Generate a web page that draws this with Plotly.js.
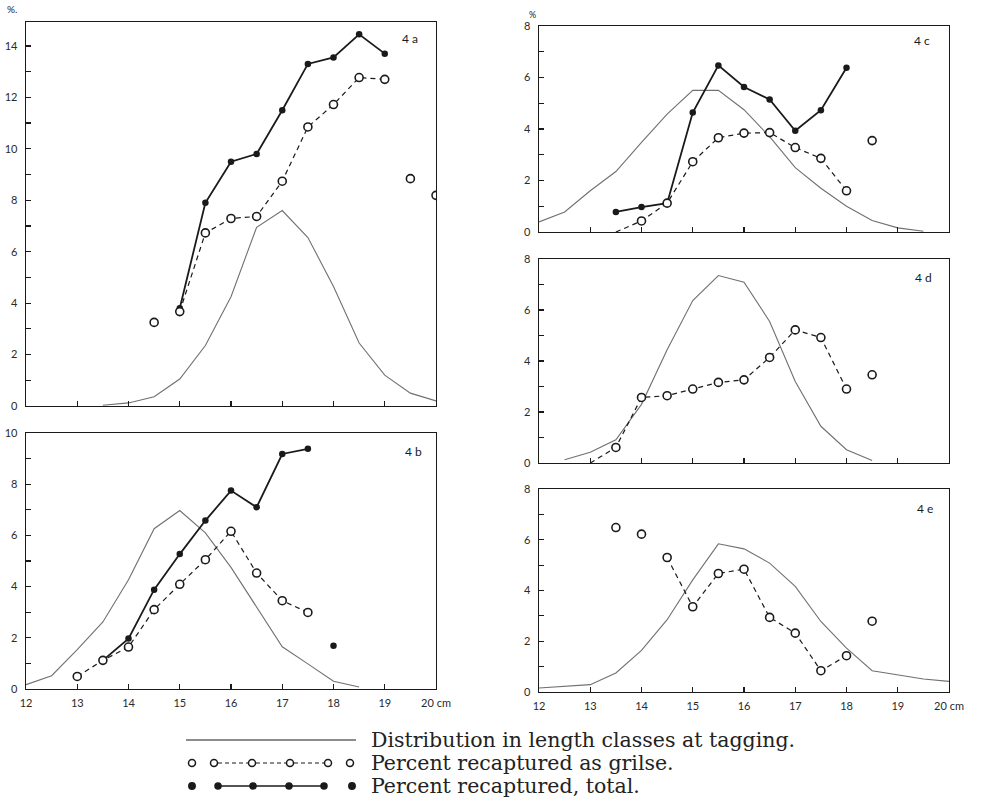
<!DOCTYPE html>
<html>
<head>
<meta charset="utf-8">
<script src="https://cdn.plot.ly/plotly-3.0.1.min.js"></script>
<style>html,body{margin:0;padding:0;background:#fff;}#chart{width:982px;height:809px;}</style>
</head>
<body>
<div id="chart"></div>
<script>
// ---------- DATA ----------
// length classes (cm)
const lengthClasses = [12,12.5,13,13.5,14,14.5,15,15.5,16,16.5,17,17.5,18,18.5,19,19.5,20];
const lengthTicks = [12,13,14,15,16,17,18,19,20];
const lengthTickLabels = ['12','13','14','15','16','17','18','19','20 cm'];

// Panel 4a
const aDist        = [null,null,null,0.03,0.12,0.36,1.05,2.35,4.25,6.95,7.6,6.55,4.65,2.45,1.2,0.5,0.2];
const aGrilseLine  = [null,null,null,null,null,null,3.67,6.73,7.29,7.37,8.74,10.85,11.72,12.77,12.7,null,null];
const aGrilseSingle= [null,null,null,null,null,3.25,null,null,null,null,null,null,null,null,null,8.84,8.19];
const aTotalLine   = [null,null,null,null,null,null,3.8,7.9,9.5,9.8,11.5,13.3,13.55,14.45,13.7,null,null];
const aTotalSingle = [null,null,null,null,null,null,null,null,null,null,null,null,null,null,null,null,null];

// Panel 4b
const bDist        = [0.17,0.52,1.54,2.62,4.27,6.26,6.97,6.1,4.75,3.2,1.65,0.98,0.3,0.08,null,null,null];
const bGrilseLine  = [null,null,0.49,1.12,1.64,3.1,4.09,5.05,6.16,4.53,3.45,2.99,null,null,null,null,null];
const bGrilseSingle= [null,null,null,null,null,null,null,null,null,null,null,null,null,null,null,null,null];
const bTotalLine   = [null,null,null,1.12,1.97,3.88,5.27,6.58,7.75,7.1,9.18,9.38,null,null,null,null,null];
const bTotalSingle = [null,null,null,null,null,null,null,null,null,null,null,null,1.69,null,null,null,null];

// Panel 4c
const cDist        = [0.39,0.78,1.6,2.35,3.48,4.58,5.5,5.5,4.75,3.7,2.5,1.7,1.0,0.45,0.16,0.03,null];
const cGrilseLine  = [null,null,null,0,0.43,1.12,2.73,3.66,3.84,3.86,3.28,2.86,1.6,null,null,null,null];
const cGrilseSingle= [null,null,null,null,null,null,null,null,null,null,null,null,null,3.55,null,null,null];
const cTotalLine   = [null,null,null,0.78,0.97,1.12,4.64,6.47,5.63,5.15,3.93,4.73,6.38,null,null,null,null];
const cTotalSingle = [null,null,null,null,null,null,null,null,null,null,null,null,null,null,null,null,null];

// Panel 4d
const dDist        = [null,0.13,0.42,0.91,2.3,4.44,6.37,7.35,7.09,5.55,3.2,1.44,0.52,0.1,null,null,null];
const dGrilseLine  = [null,null,0,0.61,2.57,2.64,2.9,3.16,3.26,4.14,5.22,4.92,2.9,null,null,null,null];
const dGrilseSingle= [null,null,null,null,null,null,null,null,null,null,null,null,null,3.46,null,null,null];

// Panel 4e
const eDist        = [0.16,0.22,0.29,0.75,1.64,2.85,4.42,5.84,5.64,5.08,4.16,2.78,1.73,0.84,0.68,0.51,0.42];
const eGrilseLine  = [null,null,null,null,null,5.3,3.36,4.67,4.84,2.94,2.32,0.84,1.43,null,null,null,null];
const eGrilseSingle= [null,null,null,6.48,6.22,null,null,null,null,null,null,null,null,2.79,null,null,null];

const panelLabels = ['4 a','4 b','4 c','4 d','4 e'];
const legendTexts = ['Distribution in length classes at tagging.','Percent recaptured as grilse.','Percent recaptured, total.'];

// ---------- LAYOUT HELPERS ----------
const W = 982, H = 809;
const P = x => x / W;
const Q = y => 1 - y / H;
const INK = '#1a1a1a';
const tickFont = {family:'Lato, "DejaVu Sans", sans-serif', size:11, color:'#2a2a2a'};

function xAxis(x0, x1, anchor, showLabels){
  return {domain:[P(x0),P(x1)], anchor:anchor, range:[12,20], tickmode:'array',
    tickvals:lengthTicks, ticktext:lengthTickLabels, showticklabels:showLabels,
    ticks:'inside', ticklen:5, tickwidth:1.2, tickcolor:INK, showline:true, mirror:true,
    linecolor:INK, linewidth:1.4, showgrid:false, zeroline:false, tickfont:tickFont,
    ticklabelstandoff:3, fixedrange:true};
}
function yAxis(top, bot, anchor, ymax){
  return {domain:[Q(bot),Q(top)], anchor:anchor, range:[0,ymax], tickmode:'linear', tick0:0, dtick:2,
    ticks:'inside', ticklen:5, tickwidth:1.2, tickcolor:INK, showline:true, mirror:true,
    linecolor:INK, linewidth:1.4, showgrid:false, zeroline:false, tickfont:tickFont,
    minor:{dtick:1, tick0:0, ticks:'inside', ticklen:5, tickwidth:1.2, tickcolor:INK, showgrid:false},
    ticklabelstandoff:5, fixedrange:true};
}

const openMarker = {symbol:'circle', size:8, color:'#ffffff', line:{color:INK, width:1.6}};
const filledMarker = {symbol:'circle', size:6.5, color:INK, line:{width:0}};

const traces = [];
function addPanel(xa, ya, dist, gLine, gSingle, tLine, tSingle){
  traces.push({x:lengthClasses, y:dist, xaxis:xa, yaxis:ya, mode:'lines',
    line:{color:'#707070', width:1.1}, hoverinfo:'skip', showlegend:false});
  if (tLine){
    traces.push({x:lengthClasses, y:tLine, xaxis:xa, yaxis:ya, mode:'lines',
      line:{color:INK, width:1.8}, showlegend:false});
    traces.push({x:lengthClasses, y:tLine, xaxis:xa, yaxis:ya, mode:'markers',
      marker:filledMarker, showlegend:false});
  }
  if (tSingle){
    traces.push({x:lengthClasses, y:tSingle, xaxis:xa, yaxis:ya, mode:'markers',
      marker:filledMarker, showlegend:false});
  }
  traces.push({x:lengthClasses, y:gLine, xaxis:xa, yaxis:ya, mode:'lines',
    line:{color:INK, width:1.2, dash:'5px,4px'}, showlegend:false});
  // open circles (the zero start of a dashed line carries no circle)
  traces.push({x:lengthClasses, y:gLine.map(v => v === 0 ? null : v), xaxis:xa, yaxis:ya, mode:'markers',
    marker:openMarker, showlegend:false});
  traces.push({x:lengthClasses, y:gSingle, xaxis:xa, yaxis:ya, mode:'markers',
    marker:openMarker, showlegend:false});
}
addPanel('x','y', aDist, aGrilseLine, aGrilseSingle, aTotalLine, aTotalSingle);
addPanel('x2','y2', bDist, bGrilseLine, bGrilseSingle, bTotalLine, bTotalSingle);
addPanel('x3','y3', cDist, cGrilseLine, cGrilseSingle, cTotalLine, cTotalSingle);
addPanel('x4','y4', dDist, dGrilseLine, dGrilseSingle, null, null);
addPanel('x5','y5', eDist, eGrilseLine, eGrilseSingle, null, null);

const layout = {
  width:W, height:H, margin:{l:0,r:0,t:0,b:0},
  paper_bgcolor:'#ffffff', plot_bgcolor:'rgba(0,0,0,0)', showlegend:false,
  xaxis: xAxis(26,436,'y',false),   yaxis: yAxis(22,406,'x',14.93),
  xaxis2:xAxis(26,436,'y2',true),   yaxis2:yAxis(433,689,'x2',10),
  xaxis3:xAxis(539,949,'y3',false), yaxis3:yAxis(26,232,'x3',8),
  xaxis4:xAxis(539,949,'y4',false), yaxis4:yAxis(259,463,'x4',8),
  xaxis5:xAxis(539,949,'y5',true),  yaxis5:yAxis(489,692,'x5',8),
  annotations:[], shapes:[]
};

// panel labels
const labelPos = [[410,39],[413,452],[922,40],[923,277],[925,508]];
panelLabels.forEach((t,i)=>{
  layout.annotations.push({text:t, xref:'paper', yref:'paper', x:P(labelPos[i][0]), y:Q(labelPos[i][1]),
    xanchor:'center', yanchor:'middle', showarrow:false, font:{family:'Lato, "DejaVu Sans", sans-serif', size:12, color:INK}});
});
// unit labels
layout.annotations.push({text:'%.', xref:'paper', yref:'paper', x:P(5), y:Q(9), xanchor:'left', yanchor:'middle',
  showarrow:false, font:{family:'Lato, sans-serif', size:10, color:INK}});
layout.annotations.push({text:'%', xref:'paper', yref:'paper', x:P(527), y:Q(14), xanchor:'left', yanchor:'middle',
  showarrow:false, font:{family:'Lato, sans-serif', size:9, color:INK}});

// custom legend
const rowY = [740, 763, 786];
legendTexts.forEach((t,i)=>{
  layout.annotations.push({text:t, xref:'paper', yref:'paper', x:P(369), y:Q(rowY[i]), xanchor:'left', yanchor:'middle',
    showarrow:false, font:{family:'"DejaVu Serif", "Liberation Serif", serif', size:20.5, color:'#222'}});
});
layout.shapes.push({type:'line', xref:'paper', yref:'paper', x0:P(186), x1:P(356), y0:Q(rowY[0]), y1:Q(rowY[0]),
  line:{color:INK, width:1.2}});
function circ(cx, cy, r, filled){
  layout.shapes.push({type:'circle', xref:'paper', yref:'paper', x0:P(cx-r), x1:P(cx+r), y0:Q(cy+r), y1:Q(cy-r),
    line:{color:INK, width:1.5}, fillcolor: filled ? INK : '#fff', layer:'above'});
}
function seg(xa, xb, y, dash, w){
  layout.shapes.push({type:'line', xref:'paper', yref:'paper', x0:P(xa), x1:P(xb), y0:Q(y), y1:Q(y),
    line:{color:INK, width:w, dash:dash}});
}
// grilse legend row
const gl = [214, 252, 290, 328];
for (let k=0;k<gl.length-1;k++) seg(gl[k]+4, gl[k+1]-4, rowY[1], '4px,3px', 1.2);
circ(192, rowY[1], 3.5, false); gl.forEach(c=>circ(c, rowY[1], 3.5, false)); circ(350, rowY[1], 3.5, false);
// total legend row
const tl = [218, 253, 289, 324];
for (let k=0;k<tl.length-1;k++) seg(tl[k], tl[k+1], rowY[2], 'solid', 1.6);
circ(192, rowY[2], 3.2, true); tl.forEach(c=>circ(c, rowY[2], 3, true)); circ(352, rowY[2], 3.2, true);

Plotly.newPlot('chart', traces, layout, {displayModeBar:false, staticPlot:true});
</script>
</body>
</html>
